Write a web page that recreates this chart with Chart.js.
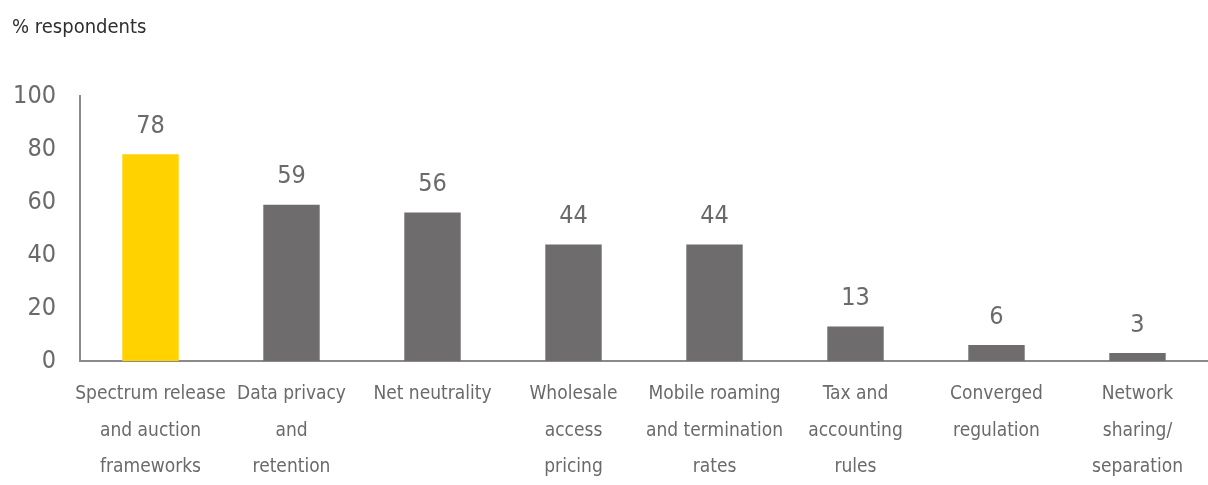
<!DOCTYPE html>
<html lang="en">
<head>
  <meta charset="UTF-8">
  <title>Regulatory priorities</title>
  <script src="https://cdn.jsdelivr.net/npm/chart.js"></script>
  <style>
    body { margin: 0; background: #fff; }
    #wrap { width: 1208px; height: 485px; position: relative; }
  </style>
</head>
<body>
  <div id="wrap"><canvas id="myChart"></canvas></div>

  <script>
    const categories = [
      ["Spectrum release", "and auction", "frameworks"],
      ["Data privacy", "and", "retention"],
      ["Net neutrality"],
      ["Wholesale", "access", "pricing"],
      ["Mobile roaming", "and termination", "rates"],
      ["Tax and", "accounting", "rules"],
      ["Converged", "regulation"],
      ["Network", "sharing/", "separation"]
    ];
    const respondents = [78, 59, 56, 44, 44, 13, 6, 3];
    const yTicks = [0, 20, 40, 60, 80, 100];

    const FONT = "'Liberation Sans Narrow', 'DejaVu Sans Condensed', sans-serif";
    const barColors = respondents.map((v, i) => i === 0 ? "#ffd200" : "#6e6c6c");

    // value above each bar
    const valueLabels = {
      id: "valueLabels",
      afterDatasetsDraw(chart) {
        const ctx = chart.ctx;
        const meta = chart.getDatasetMeta(0);
        ctx.save();
        ctx.font = "25px " + FONT;
        ctx.fillStyle = "#6a6a6a";
        ctx.textAlign = "center";
        ctx.textBaseline = "middle";
        meta.data.forEach((bar, i) => {
          ctx.fillText(respondents[i], bar.x, bar.y - 28);
        });
        ctx.restore();
      }
    };

    new Chart(document.getElementById("myChart"), {
      type: "bar",
      data: {
        labels: categories,
        datasets: [{
          data: respondents,
          backgroundColor: barColors,
          barPercentage: 0.4,
          categoryPercentage: 1
        }]
      },
      options: {
        responsive: true,
        maintainAspectRatio: false,
        animation: false,
        layout: { padding: { left: 12, right: 0, top: 0, bottom: 0 } },
        plugins: {
          legend: { display: false },
          tooltip: { enabled: false },
          title: {
            display: true,
            text: "% respondents",
            align: "start",
            color: "#2e2e2e",
            font: { family: FONT, size: 20, weight: "500" },
            padding: { top: 16, bottom: 56 }
          }
        },
        scales: {
          x: {
            grid: { display: false },
            border: { display: true, color: "#8a8a8a", width: 2 },
            ticks: {
              color: "#6a6a6a",
              font: { family: FONT, size: 19, lineHeight: 1.92 },
              maxRotation: 0,
              autoSkip: false,
              padding: 7
            },
            afterFit(scale) { scale.height = 124; }
          },
          y: {
            min: 0,
            max: 100,
            afterBuildTicks(scale) { scale.ticks = yTicks.map(v => ({ value: v })); },
            grid: { display: false },
            border: { display: true, color: "#8a8a8a", width: 2 },
            ticks: {
              color: "#6a6a6a",
              font: { family: FONT, size: 25 },
              padding: 16
            },
            afterFit(scale) { scale.width = 68; }
          }
        }
      },
      plugins: [valueLabels]
    });
  </script>
</body>
</html>
